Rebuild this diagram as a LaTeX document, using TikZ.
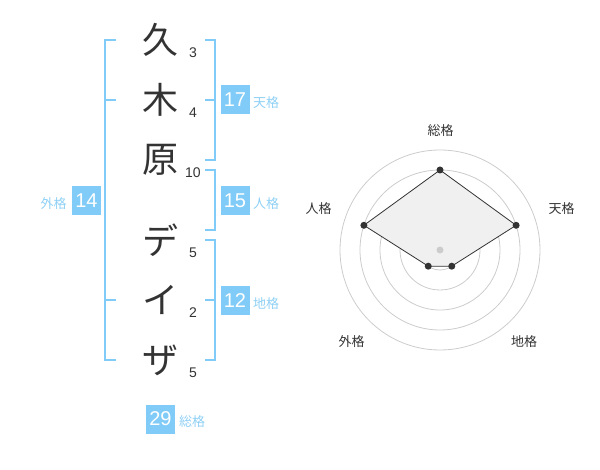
\documentclass[tikz,border=0pt]{standalone}
\usepackage{fontspec}
\setmainfont{Liberation Sans}
\newfontfamily\jp{Noto Sans CJK JP}
\definecolor{skyb}{HTML}{80CBF7}
\definecolor{skyt}{HTML}{8ED0F5}
\definecolor{ink}{HTML}{333333}
\definecolor{ring}{HTML}{CCCCCC}
\definecolor{area}{HTML}{F0F0F0}
\begin{document}
\begin{tikzpicture}[x=1pt,y=-1pt,
  kanji/.style={font=\jp\fontsize{36}{36}\selectfont, text=ink, inner sep=0pt},
  strokes/.style={font=\fontsize{14}{14}\selectfont, text=ink, inner sep=0pt},
  brk/.style={draw=skyb, line width=2pt},
  numbox/.style={fill=skyb, text=white, minimum width=29pt, minimum height=29pt, inner sep=0pt, font=\fontsize{20}{20}\selectfont},
  lab/.style={font=\jp\fontsize{13}{13}\selectfont, text=skyt, inner sep=0pt},
  rlab/.style={font=\jp\fontsize{13}{13}\selectfont, text=ink, inner sep=0pt},
  ringc/.style={draw=ring, line width=0.8pt},
  dot/.style={circle, fill=ink, inner sep=0pt, minimum size=7pt}]
\useasboundingbox (0,0) rectangle (600,470);
% characters
\node[kanji] (c1) at (160,40) {久};
\node[kanji] (c2) at (160,100) {木};
\node[kanji] (c3) at (160,160) {原};
\node[kanji] (c4) at (160,240) {デ};
\node[kanji] (c5) at (160,300) {イ};
\node[kanji] (c6) at (160,360) {ザ};
% stroke counts
\node[strokes] (s1) at (193,53) {3};
\node[strokes] (s2) at (193,113) {4};
\node[strokes] (s3) at (193,173) {10};
\node[strokes] (s4) at (193,253) {5};
\node[strokes] (s5) at (193,313) {2};
\node[strokes] (s6) at (193,373) {5};
% left bracket (gaikaku)
\draw[brk] (116,40) -- (104.5,40) -- (104.5,360) -- (116,360);
\draw[brk] (104.5,100) -- (116,100);
\draw[brk] (104.5,300) -- (116,300);
% right brackets
\draw[brk] (205,40) -- (214.5,40) -- (214.5,160) -- (205,160);
\draw[brk] (205,100) -- (214.5,100);
\draw[brk] (205,170) -- (214.5,170) -- (214.5,230) -- (205,230);
\draw[brk] (205,240) -- (214.5,240) -- (214.5,360) -- (205,360);
\draw[brk] (205,300) -- (214.5,300);
% boxes
\node[numbox] (b17) at (235,100) {17};
\node[lab] (l17) at (266,103) {天格};
\node[numbox] (b15) at (235,200.5) {15};
\node[lab] (l15) at (266,203.5) {人格};
\node[numbox] (b12) at (235,300.5) {12};
\node[lab] (l12) at (266,303.5) {地格};
\node[numbox] (b14) at (86.5,200.5) {14};
\node[lab] (l14) at (53.5,203.5) {外格};
\node[numbox] (b29) at (160.5,419) {29};
\node[lab] (l29) at (192,422) {総格};
% radar
\coordinate (O) at (440,250);
\foreach \r in {20,40,60,80,100} \draw[ringc] (O) circle[radius=\r];
\path (O) ++(0,-80) coordinate (pS);
\path (O) ++(76.1,-24.7) coordinate (pT);
\path (O) ++(11.76,16.18) coordinate (pC);
\path (O) ++(-11.76,16.18) coordinate (pG);
\path (O) ++(-76.1,-24.7) coordinate (pJ);
\fill[area] (pS) -- (pT) -- (pC) -- (pG) -- (pJ) -- cycle;
\draw[ink, line width=0.8pt] (pS) -- (pT) -- (pC) -- (pG) -- (pJ) -- cycle;
\node[circle, fill=ring, inner sep=0pt, minimum size=7pt] (ctr) at (O) {};
\foreach \p in {pS,pT,pC,pG,pJ} \node[dot] at (\p) {};
\node[rlab] (rS) at (440.5,130.5) {総格};
\node[rlab] (rT) at (561.5,208.5) {天格};
\node[rlab] (rJ) at (318.5,208.5) {人格};
\node[rlab] (rG) at (351.5,341.5) {外格};
\node[rlab] (rC) at (524,341.5) {地格};
\end{tikzpicture}
\end{document}
